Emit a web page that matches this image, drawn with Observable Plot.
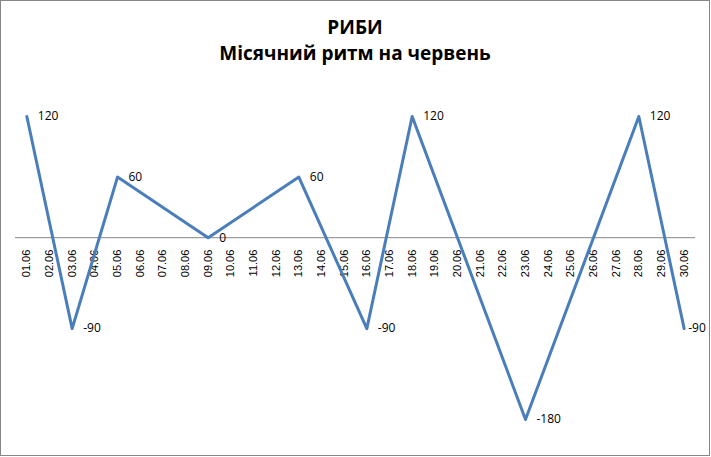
<!DOCTYPE html>
<html>
<head>
<meta charset="utf-8">
<script src="https://cdn.jsdelivr.net/npm/d3@7"></script>
<script src="https://cdn.jsdelivr.net/npm/@observablehq/plot@0.6"></script>
<style>
  html, body { margin: 0; padding: 0; background: #fff; }
  #chart {
    position: relative; width: 710px; height: 456px; box-sizing: border-box;
    border: 1px solid #868686; background: #fff; overflow: hidden;
  }
  .title, .subtitle {
    font-family: "Open Sans", "Noto Sans", sans-serif; font-weight: bold;
    text-align: center; color: #000; font-size: 19px; line-height: 24px;
  }
  .title { margin-top: 14px; }
  .subtitle { margin-top: 2px; height: 34px; }
  svg { display: block; }
</style>
</head>
<body>
<div id="chart">
  <div class="title">РИБИ</div>
  <div class="subtitle">Місячний ритм на червень</div>
</div>
<script>
const days = ["01.06","02.06","03.06","04.06","05.06","06.06","07.06","08.06","09.06","10.06",
              "11.06","12.06","13.06","14.06","15.06","16.06","17.06","18.06","19.06","20.06",
              "21.06","22.06","23.06","24.06","25.06","26.06","27.06","28.06","29.06","30.06"];
const pointDays = ["01.06","03.06","05.06","09.06","13.06","16.06","18.06","23.06","28.06","30.06"];
const values = [120, -90, 60, 0, 60, -90, 120, -180, 120, -90];

const pos = d => days.indexOf(d) + 1;
const data = pointDays.map((d, i) => ({day: d, value: values[i]}));
const lastDay = pointDays[pointDays.length - 1];

const plot = Plot.plot({
  width: 708,
  height: 380,
  marginTop: 41,
  marginBottom: 36,
  marginLeft: 14,
  marginRight: 14,
  style: {fontFamily: "'Open Sans', sans-serif", background: "transparent", overflow: "visible"},
  x: {type: "linear", domain: [0.5, days.length + 0.5], axis: null},
  y: {domain: [-180, 120], axis: null},
  marks: [
    Plot.ruleY([0], {stroke: "#868686", strokeWidth: 1}),
    Plot.text(days, {
      x: pos, y: () => 0, text: d => d, rotate: -90, textAnchor: "end",
      dy: 12, fontSize: 11, fontFamily: "'Liberation Sans', Arial, sans-serif", fill: "#000"
    }),
    Plot.line(data, {x: d => pos(d.day), y: "value", stroke: "#4A7EBB", strokeWidth: 3, curve: "linear"}),
    Plot.text(data.filter(d => d.day !== lastDay), {
      x: d => pos(d.day), y: "value", text: d => String(d.value), textAnchor: "start",
      dx: 11, fontSize: 12, fill: "#000"
    }),
    Plot.text(data.filter(d => d.day === lastDay), {
      x: d => pos(d.day), y: "value", text: d => String(d.value), textAnchor: "start",
      dx: 4, fontSize: 12, fill: "#000"
    })
  ]
});
document.getElementById("chart").appendChild(plot);
</script>
</body>
</html>
